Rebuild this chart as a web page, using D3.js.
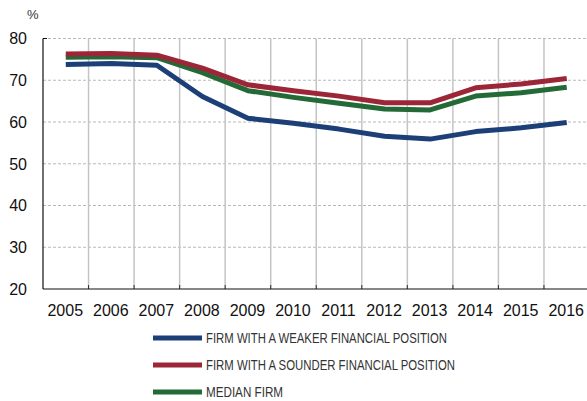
<!DOCTYPE html>
<html>
<head>
<meta charset="utf-8">
<script src="https://cdn.jsdelivr.net/npm/d3@7"></script>
<style>
  body { margin: 0; background: #fff; }
  svg { display: block; }
</style>
</head>
<body>
<div id="chart"></div>
<script>
// data
const years = ["2005","2006","2007","2008","2009","2010","2011","2012","2013","2014","2015","2016"];
const weaker  = [73.8, 74.0, 73.6, 66.1, 60.9, 59.7, 58.3, 56.6, 55.9, 57.7, 58.6, 59.9];
const sounder = [76.3, 76.4, 76.0, 72.9, 68.9, 67.5, 66.2, 64.6, 64.6, 68.2, 69.1, 70.4];
const median  = [75.5, 75.6, 75.4, 71.8, 67.5, 65.9, 64.5, 63.1, 62.9, 66.2, 67.0, 68.3];
const yTicks = [20, 30, 40, 50, 60, 70, 80];
const seriesNames = ["FIRM WITH A WEAKER FINANCIAL POSITION", "FIRM WITH A SOUNDER FINANCIAL POSITION", "MEDIAN FIRM"];
const seriesColors = ["#1d3f78", "#9c2637", "#246a36"];
// condensed legend font is not installed, so squeeze to the widths seen
const legendWidths = [241, 249, 77];

const W = 587, H = 401;

const svg = d3.select("#chart").append("svg")
  .attr("width", W).attr("height", H);

const x = d3.scaleBand().domain(years).range([43, 589.5]);
const y = d3.scaleLinear().domain([20, 80]).range([289, 38.5]);

// horizontal dashed gridlines
svg.append("g").selectAll("line")
  .data(yTicks.slice(1))
  .join("line")
  .attr("x1", 43).attr("x2", W)
  .attr("y1", d => y(d)).attr("y2", d => y(d))
  .attr("stroke", "#b9b9b9").attr("stroke-width", 1)
  .attr("stroke-dasharray", "3,2");

// vertical gridlines between years
svg.append("g").selectAll("line")
  .data(years.slice(1))
  .join("line")
  .attr("x1", d => x(d)).attr("x2", d => x(d))
  .attr("y1", y(80)).attr("y2", y(20))
  .attr("stroke", "#c4c4c4").attr("stroke-width", 1.5);

// bottom ticks (dark, pointing up)
svg.append("g").selectAll("line")
  .data(years.slice(1))
  .join("line")
  .attr("x1", d => x(d)).attr("x2", d => x(d))
  .attr("y1", y(20) - 4).attr("y2", y(20))
  .attr("stroke", "#333").attr("stroke-width", 1);

// axes lines
svg.append("line")
  .attr("x1", 43).attr("x2", 43).attr("y1", y(80)).attr("y2", y(20))
  .attr("stroke", "#111").attr("stroke-width", 1.2);
svg.append("line")
  .attr("x1", 43).attr("x2", W).attr("y1", y(20)).attr("y2", y(20))
  .attr("stroke", "#111").attr("stroke-width", 1.2);
svg.append("line")
  .attr("x1", 43).attr("x2", 47).attr("y1", y(80)).attr("y2", y(80))
  .attr("stroke", "#111").attr("stroke-width", 1);

// y labels
svg.append("g").selectAll("text")
  .data(yTicks)
  .join("text")
  .attr("x", 27).attr("y", d => y(d))
  .attr("dy", "0.36em")
  .attr("text-anchor", "end")
  .style("font-family", "Liberation Sans, Arial, sans-serif")
  .style("font-size", "16px")
  .attr("fill", "#111")
  .text(d => d);

svg.append("text")
  .attr("x", 27).attr("y", 19)
  .attr("fill", "#333")
  .style("font-family", "Liberation Sans, Arial, sans-serif")
  .style("font-size", "13px")
  .text("%");

// x labels
svg.append("g").selectAll("text")
  .data(years)
  .join("text")
  .attr("x", d => x(d) + x.bandwidth() / 2 - 0.5)
  .attr("y", 316)
  .attr("text-anchor", "middle")
  .style("font-family", "Liberation Sans, Arial, sans-serif")
  .style("font-size", "16px")
  .attr("fill", "#111")
  .text(d => d);

// lines
const line = d3.line()
  .x((d, i) => x(years[i]) + x.bandwidth() / 2)
  .y(d => y(d));

const allSeries = [median, sounder, weaker];
const allColors = [seriesColors[2], seriesColors[1], seriesColors[0]];
svg.append("g").selectAll("path")
  .data(allSeries)
  .join("path")
  .attr("fill", "none")
  .attr("stroke", (d, i) => allColors[i])
  .attr("stroke-width", 5)
  .attr("stroke-linejoin", "round")
  .attr("d", d => line(d));

// legend
const legendY = [338, 365, 392];
const leg = svg.append("g").selectAll("g")
  .data(seriesNames)
  .join("g")
  .attr("transform", (d, i) => `translate(153,${legendY[i]})`);
leg.append("line")
  .attr("x1", 0).attr("x2", 49)
  .attr("stroke", (d, i) => seriesColors[i])
  .attr("stroke-width", 5);
leg.append("text")
  .attr("x", 53).attr("dy", "0.36em")
  .style("font-family", "Liberation Sans Narrow, Arial Narrow, sans-serif")
  .style("font-size", "14px")
  .attr("fill", "#333")
  .attr("textLength", (d, i) => legendWidths[i])
  .attr("lengthAdjust", "spacingAndGlyphs")
  .text(d => d);
</script>
</body>
</html>
